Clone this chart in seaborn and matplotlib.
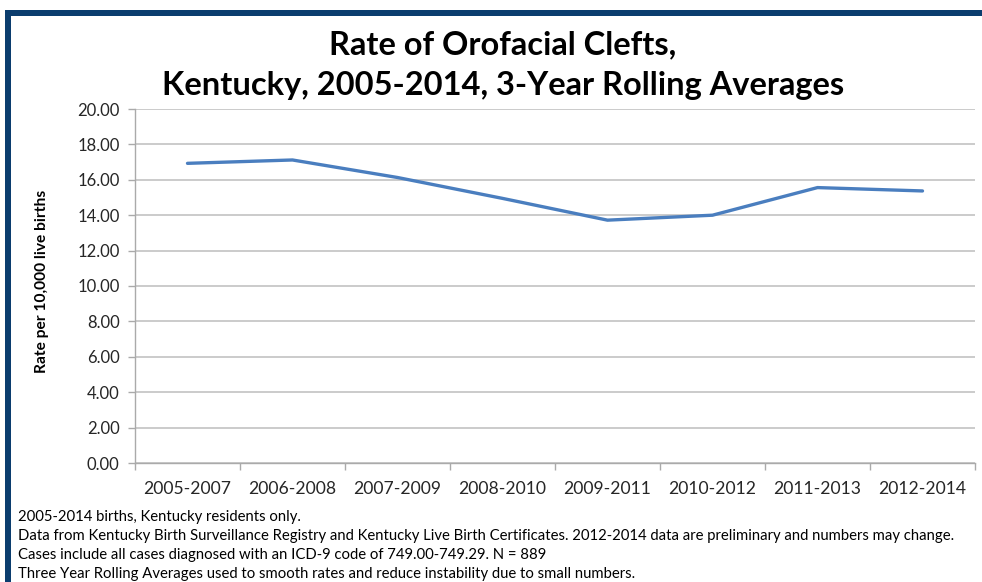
import matplotlib
matplotlib.use("Agg")
import matplotlib.pyplot as plt
import seaborn as sns
import pandas as pd
from matplotlib.patches import Rectangle
from matplotlib.ticker import FixedLocator, FormatStrFormatter

periods = ["2005-2007", "2006-2008", "2007-2009", "2008-2010",
           "2009-2011", "2010-2012", "2011-2013", "2012-2014"]
rates = [16.93, 17.12, 16.13, 14.95, 13.72, 14.00, 15.56, 15.37]
yticks = [0, 2, 4, 6, 8, 10, 12, 14, 16, 18, 20]

title_lines = ["Rate of Orofacial Clefts,", "Kentucky, 2005-2014, 3-Year Rolling Averages"]
ylabel = "Rate per 10,000 live births"
notes = [
    "2005-2014 births, Kentucky residents only.",
    "Data from Kentucky Birth Surveillance Registry and Kentucky Live Birth Certificates. 2012-2014 data are preliminary and numbers may change.",
    "Cases include all cases diagnosed with an ICD-9 code of 749.00-749.29. N = 889",
    "Three Year Rolling Averages used to smooth rates and reduce instability due to small numbers.",
]

sns.set_theme(style="white")
plt.rcParams["font.family"] = ["Lato", "DejaVu Sans"]

W, H = 982, 582
fig = plt.figure(figsize=(W / 100, H / 100), dpi=100)
fig.patch.set_facecolor("white")

# navy frame
navy = "#0B3D6E"
fig.add_artist(Rectangle((5 / W, 0), 6 / W, (H - 10) / H, transform=fig.transFigure,
                         facecolor=navy, edgecolor="none"))
fig.add_artist(Rectangle((5 / W, (H - 16) / H), (W - 5) / W, 6 / H, transform=fig.transFigure,
                         facecolor=navy, edgecolor="none"))

ax = fig.add_axes([135 / W, (H - 463) / H, 840 / W, 354 / H])
df = pd.DataFrame({"x": list(range(len(periods))), "rate": rates})
sns.lineplot(data=df, x="x", y="rate", ax=ax, color="#4A7EBF", linewidth=2.4, sort=False)

ax.set_xlim(-0.5, len(periods) - 0.5)
ax.set_ylim(0, 20)
ax.yaxis.set_major_locator(FixedLocator(yticks))
ax.yaxis.set_major_formatter(FormatStrFormatter("%.2f"))
ax.grid(axis="y", color="#BDBDBD", linewidth=1.1)
ax.set_axisbelow(True)

ax.set_xticks(range(len(periods)))
ax.set_xticklabels(periods)
ax.set_xticks([i - 0.5 for i in range(len(periods) + 1)], minor=True)
ax.tick_params(axis="x", which="major", length=0, pad=13, labelsize=12.6, labelcolor="#262626")
ax.tick_params(axis="x", which="minor", length=5, width=1, color="#AAAAAA", direction="out", bottom=True)
ax.tick_params(axis="y", which="major", length=5, width=1, color="#AAAAAA", direction="out",
               left=True, pad=6, labelsize=12, labelcolor="#262626")

for s in ["top", "right"]:
    ax.spines[s].set_visible(False)
for s in ["left", "bottom"]:
    ax.spines[s].set_color("#AAAAAA")
    ax.spines[s].set_linewidth(1)

ax.set_xlabel("")
ax.set_ylabel("")
fig.text(42 / W, (H - 281) / H, ylabel, rotation=90, ha="center", va="center",
         fontsize=11.2, fontweight="bold", color="black")

for i, (line, yc) in enumerate(zip(title_lines, [45, 85])):
    fig.text(503 / W, (H - yc) / H, line, ha="center", va="center", fontsize=23.5,
             fontweight="bold", color="black")

for i, line in enumerate(notes):
    fig.text(18 / W, (H - (517 + 19 * i)) / H, line, ha="left", va="center",
             fontsize=10.7, color="black")

fig.savefig("out.png", dpi=100, facecolor="white")
